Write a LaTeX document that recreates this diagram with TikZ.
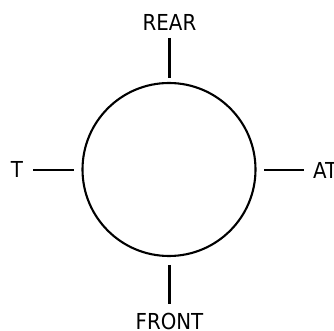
\documentclass[tikz,border=0pt]{standalone}
\usepackage{fontspec}
\setmainfont{DejaVu Sans Condensed}
\begin{document}
\begin{tikzpicture}[x=1pt,y=1pt,
  lbl/.style={inner sep=0pt, font=\fontsize{22}{24}\selectfont},
  conn/.style={line width=2.1pt}]
\useasboundingbox (0,0) rectangle (334,331);
\node[draw, line width=2.1pt, circle, minimum size=173pt, inner sep=0pt] (c) at (169,161.5) {};
\node[lbl] (rear) at (169.5,308.7) {REAR};
\node[lbl] (front) at (169.5,10) {FRONT};
\node[lbl] (t) at (17,162) {T};
\node[lbl, anchor=west] (at) at (313,161) {AT};
\coordinate (t1) at (169.5,293);
\coordinate (t2) at (169.5,253);
\coordinate (b1) at (169.5,66);
\coordinate (b2) at (169.5,27);
\coordinate (l1) at (33,161);
\coordinate (l2) at (74,161);
\coordinate (r1) at (264,161);
\coordinate (r2) at (304,161);
\draw[conn] (t1) -- (t2);
\draw[conn] (b1) -- (b2);
\draw[conn] (l1) -- (l2);
\draw[conn] (r1) -- (r2);
\end{tikzpicture}
\end{document}
